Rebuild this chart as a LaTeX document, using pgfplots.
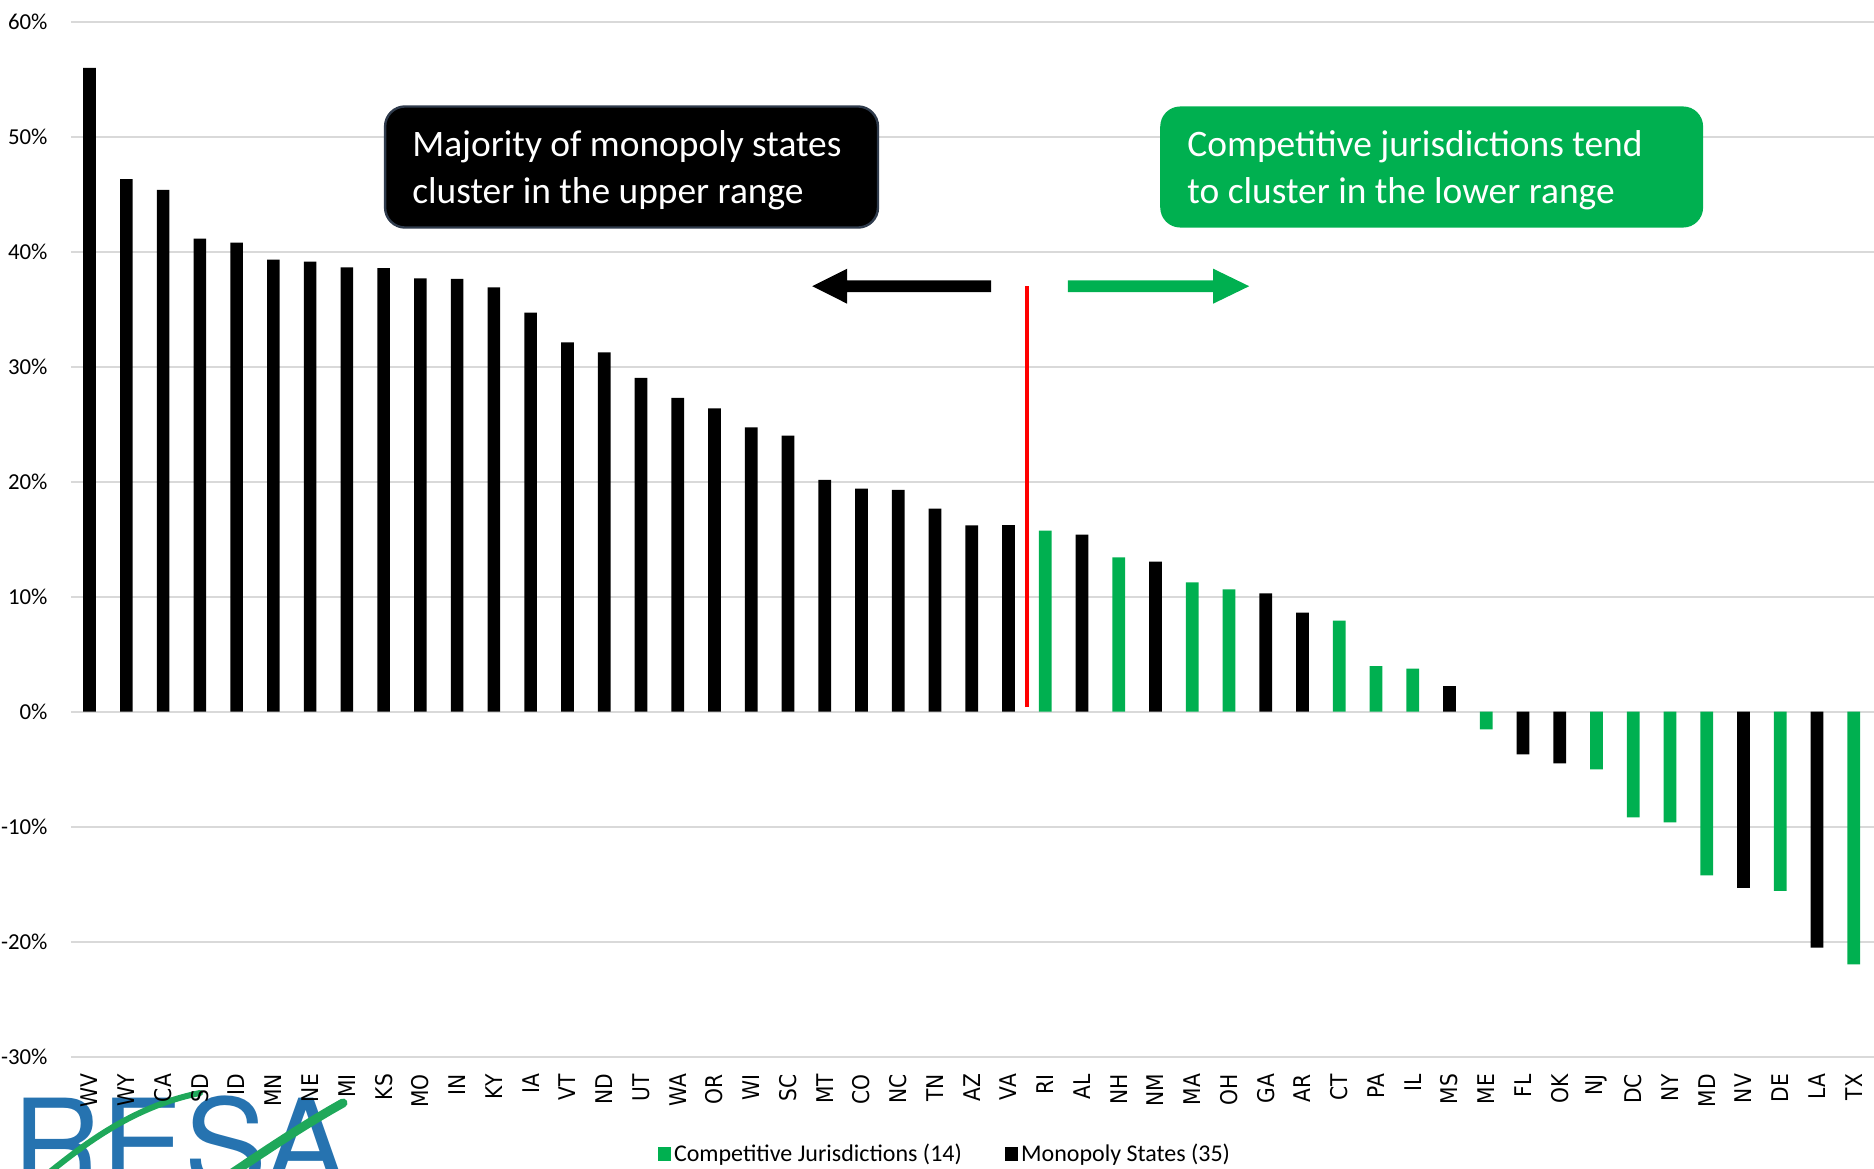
\documentclass[border=0pt]{standalone}
\usepackage{fontspec}
\setmainfont{Carlito}
\newfontfamily\dejavu{DejaVu Sans}
\newfontfamily\logofont{TeX Gyre Heros}
\usepackage{pgfplots}
\pgfplotsset{compat=1.18}
\definecolor{cgreen}{HTML}{00B050}
\definecolor{cgrid}{HTML}{D9D9D9}
\definecolor{logoblue}{HTML}{2673B0}
\definecolor{logogreen}{HTML}{1FA85A}
\definecolor{boxedge}{HTML}{2F3B4C}
\begin{document}
\begin{tikzpicture}
\path[use as bounding box] (-35.5pt,-55.65pt) rectangle (901.5pt,528.35pt);
% logo (partially cut off at bottom-left)
\node[anchor=base west, inner sep=0pt, text=logoblue, font=\logofont\fontsize{62}{62}\selectfont] at (-29.5pt,-65.65pt) {RESA};
\draw[logogreen, line width=3pt, line cap=round] (-15.5pt,-61.65pt) .. controls (5pt,-45pt) and (30pt,-25pt) .. (64.5pt,-18.15pt);
\draw[logogreen, line width=4.5pt, line cap=round] (75pt,-62pt) .. controls (100pt,-45pt) and (120pt,-32pt) .. (136pt,-23.15pt);
\begin{axis}[
  at={(0,0)}, anchor=south west,
  width=901.5pt, height=517.5pt, scale only axis,
  xmin=-0.506, xmax=48.55, ymin=-30, ymax=60,
  clip=false,
  axis line style={draw=none},
  major tick length=0pt,
  ytick={-30,-20,-10,0,10,20,30,40,50,60},
  yticklabels={-30\%,-20\%,-10\%,0\%,10\%,20\%,30\%,40\%,50\%,60\%},
  xtick={0,1,...,48},
  xticklabels={WV,WY,CA,SD,ID,MN,NE,MI,KS,MO,IN,KY,IA,VT,ND,UT,WA,OR,WI,SC,MT,CO,NC,TN,AZ,VA,RI,AL,NH,NM,MA,OH,GA,AR,CT,PA,IL,MS,ME,FL,OK,NJ,DC,NY,MD,NV,DE,LA,TX},
  ymajorgrids, grid style={cgrid, line width=0.9pt},
  yticklabel style={font=\fontsize{11.4}{13}\selectfont, anchor=east},
  yticklabel shift=8.2pt,
  xticklabel style={font=\dejavu\fontsize{11.5}{13}\selectfont, rotate=90, anchor=east, xscale=0.88},
  xticklabel shift=5.6pt,
  legend columns=2,
  legend style={at={(0.485,0)}, yshift=-48.6pt, anchor=center, draw=none, fill=none,
    font=\fontsize{12}{14}\selectfont,
    /tikz/every even column/.append style={column sep=20pt},
    nodes={inner xsep=1.5pt}},
  legend image code/.code={\fill[#1] (0pt,-3.3pt) rectangle (6.6pt,3.3pt);},
]
\addplot[ybar, bar width=6.35pt, bar shift=0pt, fill=black, draw=none, forget plot] coordinates {
(0,55.98) (1,46.32) (2,45.37) (3,41.13) (4,40.78) (5,39.30) (6,39.13) (7,38.64) (8,38.58)
(9,37.69) (10,37.63) (11,36.90) (12,34.70) (13,32.12) (14,31.25) (15,29.02) (16,27.30)
(17,26.38) (18,24.73) (19,24.00) (20,20.15) (21,19.39) (22,19.30) (23,17.65) (24,16.21)
(25,16.23) (27,15.39) (29,13.04) (32,10.29) (33,8.61) (37,2.23) (39,-3.71) (40,-4.49)
(45,-15.33) (47,-20.52)
};
\addplot[ybar, bar width=6.35pt, bar shift=0pt, fill=cgreen, draw=none, forget plot] coordinates {
(26,15.74) (28,13.42) (30,11.25) (31,10.64) (34,7.91) (35,3.97) (36,3.74) (38,-1.53)
(41,-5.01) (42,-9.18) (43,-9.62) (44,-14.23) (46,-15.59) (48,-21.97)
};
\addlegendimage{fill=cgreen, draw=none}
\addlegendentry{Competitive Jurisdictions (14)}
\addlegendimage{fill=black, draw=none}
\addlegendentry{Monopoly States (35)}
% red divider
\draw[red, line width=2pt] (axis cs:25.5,0.4) -- (axis cs:25.5,37.0);
% arrows
\fill[black] (axis cs:19.66,37.0) -- (axis cs:20.61,38.52) -- (axis cs:20.61,37.51) -- (axis cs:24.53,37.51)
  -- (axis cs:24.53,36.49) -- (axis cs:20.61,36.49) -- (axis cs:20.61,35.48) -- cycle;
\fill[cgreen] (axis cs:31.55,37.0) -- (axis cs:30.57,38.52) -- (axis cs:30.57,37.51) -- (axis cs:26.62,37.51)
  -- (axis cs:26.62,36.49) -- (axis cs:30.57,36.49) -- (axis cs:30.57,35.48) -- cycle;
% annotation boxes
\draw[fill=black, draw=boxedge, line width=1.2pt, rounded corners=10pt] (axis cs:8.04,42.1) rectangle (axis cs:21.45,52.63);
\node[anchor=base west, inner sep=0pt, text=white, font=\fontsize{18.7}{22}\selectfont] at (axis cs:8.77,48.25) {Majority of monopoly states};
\node[anchor=base west, inner sep=0pt, text=white, font=\fontsize{18.7}{22}\selectfont] at (axis cs:8.77,44.20) {cluster in the upper range};
\fill[cgreen, rounded corners=10pt] (axis cs:29.13,42.1) rectangle (axis cs:43.90,52.63);
\node[anchor=base west, inner sep=0pt, text=white, font=\fontsize{18.7}{22}\selectfont] at (axis cs:29.86,48.25) {Competitive jurisdictions tend};
\node[anchor=base west, inner sep=0pt, text=white, font=\fontsize{18.7}{22}\selectfont] at (axis cs:29.86,44.20) {to cluster in the lower range};
\end{axis}
\end{tikzpicture}
\end{document}
